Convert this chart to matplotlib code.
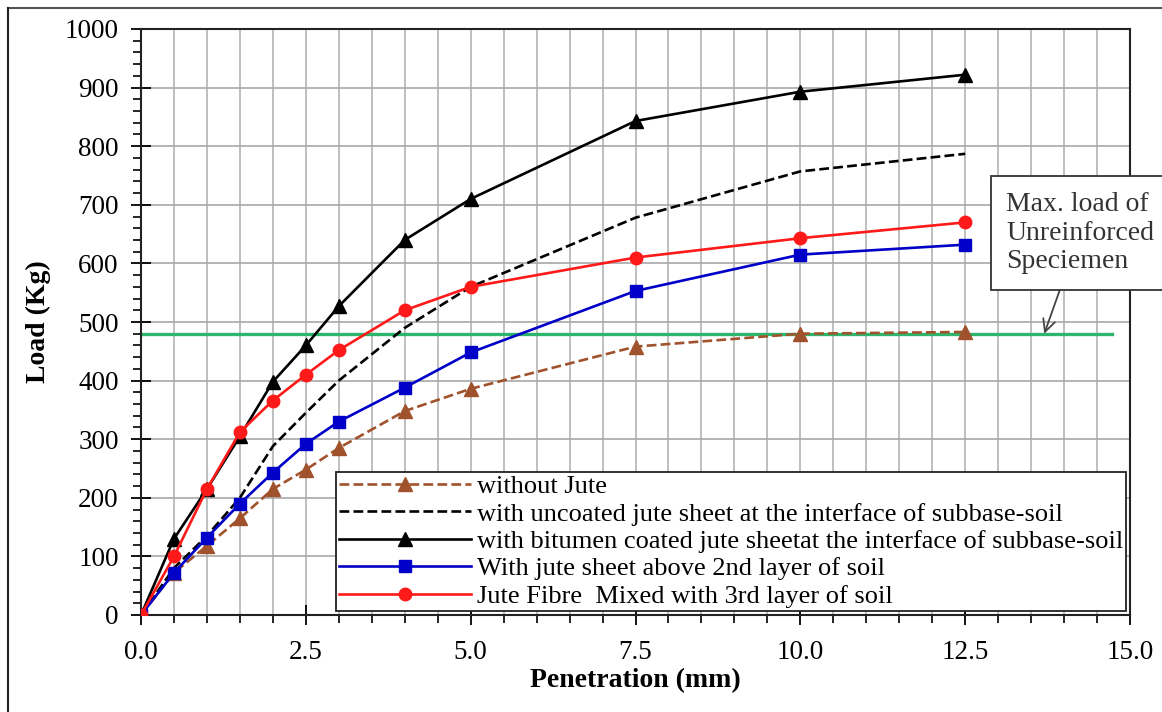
import numpy as np
import matplotlib.pyplot as plt
from matplotlib.lines import Line2D
from matplotlib.ticker import MultipleLocator

plt.rcParams['font.family'] = ['Liberation Serif', 'DejaVu Serif']

# Penetration (mm)
pen = [0, 0.5, 1.0, 1.5, 2.0, 2.5, 3.0, 4.0, 5.0, 7.5, 10.0, 12.5]

# Load (Kg)
without_jute = [0, 72, 118, 165, 215, 248, 285, 348, 386, 458, 480, 483]
uncoated = [0, 80, 135, 200, 288, 345, 400, 490, 560, 678, 757, 787]
bitumen = [0, 130, 215, 305, 398, 460, 527, 640, 710, 843, 893, 922]
above_2nd = [0, 72, 132, 190, 243, 292, 330, 388, 448, 553, 615, 632]
fibre_3rd = [0, 100, 215, 312, 366, 410, 452, 520, 560, 610, 643, 670]

unreinforced_max = 480
green_x = [0, 14.73]

labels = ['without Jute',
          'with uncoated jute sheet at the interface of subbase-soil',
          'with bitumen coated jute sheetat the interface of subbase-soil',
          'With jute sheet above 2nd layer of soil',
          'Jute Fibre  Mixed with 3rd layer of soil']

fig = plt.figure(figsize=(11.62, 7.12), dpi=100)
ax = fig.add_axes([141 / 1162, 97 / 712, 989 / 1162, 586 / 712])

ax.plot(green_x, [unreinforced_max, unreinforced_max], color='#2db56c', lw=2.4, zorder=2)

ax.plot(pen, without_jute, color='#a0522d', ls='--', lw=1.9, marker='^', ms=10,
        label=labels[0], zorder=3)
ax.plot(pen, uncoated, color='black', ls='--', lw=1.9, label=labels[1], zorder=3)
ax.plot(pen, bitumen, color='black', lw=1.9, marker='^', ms=10, label=labels[2], zorder=4)
ax.plot(pen, above_2nd, color='#0000c8', lw=1.9, marker='s', ms=9, label=labels[3], zorder=4)
ax.plot(pen, fibre_3rd, color='#ff1a1a', lw=1.9, marker='o', ms=9, label=labels[4], zorder=5)

ax.set_xlim(0, 15)
ax.set_ylim(0, 1000)
ax.xaxis.set_major_locator(MultipleLocator(2.5))
ax.xaxis.set_minor_locator(MultipleLocator(0.5))
ax.yaxis.set_major_locator(MultipleLocator(100))
ax.yaxis.set_minor_locator(MultipleLocator(20))
ax.xaxis.set_major_formatter(plt.FuncFormatter(lambda v, p: f'{v:.1f}'))

ax.grid(True, which='major', axis='y', color='#a8a8a8', lw=1.2)
ax.grid(True, which='both', axis='x', color='#b4b4b4', lw=1.2)
ax.set_axisbelow(True)

ax.tick_params(axis='both', which='major', direction='inout', length=14, width=1.3,
               labelsize=19.5)
ax.tick_params(axis='y', which='major', pad=9)
ax.tick_params(axis='x', which='major', pad=11)
ax.tick_params(axis='both', which='minor', direction='out', length=6, width=1.2)
for s in ax.spines.values():
    s.set_linewidth(1.5)
    s.set_color('#222222')

ax.set_xlabel('Penetration (mm)', fontsize=20, fontweight='bold', labelpad=2)
ax.set_ylabel('Load (Kg)', fontsize=20, fontweight='bold', labelpad=10)

leg = ax.legend(loc='lower right', fontsize=19, handlelength=5.0, handletextpad=0.2,
                labelspacing=0.15, borderpad=0.12, borderaxespad=0.15,
                fancybox=False, framealpha=1, edgecolor='#222222')
leg.get_frame().set_linewidth(1.3)

ax.annotate('Max. load of\nUnreinforced\nSpeciemen', xy=(13.7, unreinforced_max),
            xytext=(1006 / 1162, 1 - 233 / 712), textcoords='figure fraction',
            ha='left', va='center', fontsize=20, color='#333333', linespacing=1.2,
            bbox=dict(boxstyle='square,pad=0.55', fc='white', ec='#333333', lw=1.3),
            arrowprops=dict(arrowstyle='->', color='#444444', lw=1.3,
                            shrinkA=0, shrinkB=0, mutation_scale=22),
            annotation_clip=False, zorder=6)

# outer frame
fig.add_artist(Line2D([8 / 1162, 1], [1 - 8 / 712, 1 - 8 / 712], color='#555555', lw=1.5))
fig.add_artist(Line2D([8 / 1162, 8 / 1162], [0, 1 - 8 / 712], color='#222222', lw=1.5))

fig.savefig('out.png', dpi=100)
